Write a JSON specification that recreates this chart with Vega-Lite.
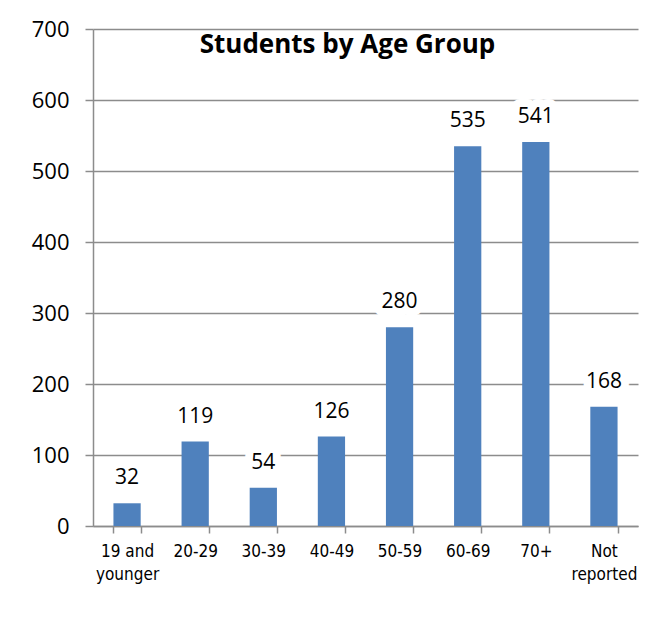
{
  "$schema": "https://vega.github.io/schema/vega-lite/v6.json",
  "autosize": "none",
  "padding": {"left": 93, "top": 29, "right": 22, "bottom": 113},
  "width": 545,
  "height": 497,
  "background": "white",
  "title": {
    "text": "Students by Age Group",
    "font": "Open Sans",
    "fontSize": 26,
    "fontWeight": "bold",
    "color": "#000000",
    "anchor": "middle",
    "dx": -18,
    "offset": -40
  },
  "data": {
    "values": [
      {"group": "19 and younger", "students": 32},
      {"group": "20-29", "students": 119},
      {"group": "30-39", "students": 54},
      {"group": "40-49", "students": 126},
      {"group": "50-59", "students": 280},
      {"group": "60-69", "students": 535},
      {"group": "70+", "students": 541},
      {"group": "Not reported", "students": 168}
    ]
  },
  "encoding": {
    "x": {
      "field": "group",
      "type": "nominal",
      "sort": null,
      "scale": {"paddingInner": 0.6, "paddingOuter": 0.3},
      "axis": {
        "title": null,
        "labelAngle": 0,
        "labelFont": "DejaVu Sans Condensed",
        "labelFontSize": 17,
        "labelColor": "#000000",
        "labelPadding": 10,
        "labelLineHeight": 23,
        "labelExpr": "datum.label == '19 and younger' ? ['19 and', 'younger'] : datum.label == 'Not reported' ? ['Not', 'reported'] : datum.label",
        "tickBand": "extent",
        "tickSize": 7,
        "tickColor": "#8c8c8c",
        "tickWidth": 1.5,
        "domainColor": "#8c8c8c",
        "domainWidth": 1.5,
        "grid": false
      }
    },
    "y": {
      "field": "students",
      "type": "quantitative",
      "scale": {"domain": [0, 700], "nice": false},
      "axis": {
        "title": null,
        "values": [0, 100, 200, 300, 400, 500, 600, 700],
        "labelFont": "Open Sans",
        "labelFontSize": 22,
        "labelColor": "#000000",
        "labelPadding": 16,
        "tickSize": 8,
        "tickColor": "#8c8c8c",
        "tickWidth": 1.5,
        "domainColor": "#8c8c8c",
        "domainWidth": 1.5,
        "grid": true,
        "gridColor": "#8c8c8c",
        "gridWidth": 1.5
      }
    }
  },
  "layer": [
    {"mark": {"type": "bar", "color": "#4F81BD"}},
    {
      "mark": {
        "type": "text",
        "baseline": "alphabetic",
        "dy": -19,
        "font": "Open Sans",
        "fontSize": 21,
        "stroke": "white",
        "strokeWidth": 16,
        "strokeJoin": "round",
        "fill": "white"
      },
      "encoding": {"text": {"field": "students", "type": "quantitative"}}
    },
    {
      "mark": {
        "type": "text",
        "baseline": "alphabetic",
        "dy": -19,
        "font": "Open Sans",
        "fontSize": 21,
        "color": "#000000"
      },
      "encoding": {"text": {"field": "students", "type": "quantitative"}}
    }
  ],
  "config": {"view": {"stroke": null}}
}
